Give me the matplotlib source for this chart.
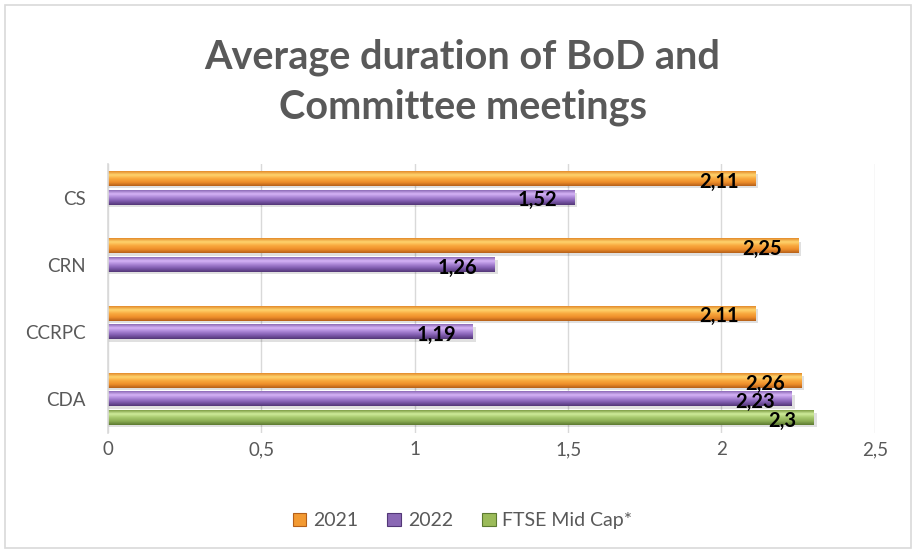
import numpy as np
import matplotlib
matplotlib.use("Agg")
import matplotlib.pyplot as plt
from matplotlib.colors import LinearSegmentedColormap
from matplotlib.patches import Rectangle

plt.rcParams['font.family'] = ['Lato', 'DejaVu Sans']

# data (top row of the chart is the last category)
categories = ["CDA", "CCRPC", "CRN", "CS"]
y2021 = [2.26, 2.11, 2.25, 2.11]
y2022 = [2.23, 1.19, 1.26, 1.52]
ftse = [2.3, None, None, None]
series_names = ["2021", "2022", "FTSE Mid Cap*"]

# bevel-ish gradients, top -> bottom
grads = {
    "2021": ["#E38A2B", "#FFD46E", "#F9A93E", "#EE8E2A", "#B5601A"],
    "2022": ["#8C6AB6", "#D6B4F7", "#A883D4", "#7D5AAC", "#533777"],
    "FTSE Mid Cap*": ["#7E9E45", "#D0EC9B", "#A6C86C", "#8BAC53", "#5C7A31"],
}
solid = {"2021": "#F39A32", "2022": "#8A68B4", "FTSE Mid Cap*": "#9BBB59"}

fig = plt.figure(figsize=(9.16, 5.53), dpi=100)
fig.patches.append(Rectangle((0.005, 0.009), 0.99, 0.982, transform=fig.transFigure,
                             fill=False, edgecolor="#D9D9D9", lw=1.2))
ax = fig.add_axes([0.1179, 0.217, 0.8371, 0.4866])

ypos = np.arange(len(categories))
slot = 0.275
hgt = 0.21
offsets = [slot, 0.0, -slot]


def gradient_bar(ax, y, v, name):
    cmap = LinearSegmentedColormap.from_list(name, grads[name])
    g = np.linspace(0, 1, 64).reshape(-1, 1)
    # soft drop shadow
    ax.add_patch(Rectangle((0, y - hgt / 2 - 0.035), v + 0.01, hgt, color="#000000",
                           alpha=0.12, lw=0, zorder=1.5))
    ax.imshow(g, cmap=cmap, extent=(0, v, y - hgt / 2, y + hgt / 2), aspect="auto",
              interpolation="bilinear", origin="upper", zorder=2)


for name, vals, off in zip(series_names, [y2021, y2022, ftse], offsets):
    for y, v in zip(ypos, vals):
        if v is None:
            continue
        gradient_bar(ax, y + off, v, name)
        ax.annotate(f"{v:g}".replace(".", ","), xy=(v, y + off), xytext=(-12, -2),
                    textcoords="offset points", ha="right", va="center",
                    fontsize=14.5, fontweight="bold", color="black", zorder=5)

ax.set_xlim(0, 2.5)
ax.set_ylim(-0.5, 3.5)
ax.set_xticks(np.arange(0, 2.51, 0.5))
ax.set_xticklabels([f"{t:g}".replace(".", ",") for t in np.arange(0, 2.51, 0.5)])
ax.set_yticks(ypos)
ax.set_yticklabels(categories)
ax.tick_params(length=0, labelsize=13.5, colors="#595959")
ax.tick_params(axis="y", pad=16)
ax.tick_params(axis="x", pad=6)
ax.grid(axis="x", color="#D9D9D9", lw=1)
ax.set_axisbelow(True)
for s in ["top", "right", "bottom"]:
    ax.spines[s].set_visible(False)
ax.spines["left"].set_color("#D9D9D9")
ax.spines["left"].set_linewidth(1.2)

fig.text(0.505, 0.851, "Average duration of BoD and\nCommittee meetings", ha="center",
         va="center", fontsize=28.5, fontweight="bold", color="#595959", linespacing=1.4)

handles = [Rectangle((0, 0), 1, 1, facecolor=solid[n], edgecolor=grads[n][-1], lw=0.8)
           for n in series_names]
fig.legend(handles, series_names, loc="center", bbox_to_anchor=(0.505, 0.058), ncol=3,
           frameon=False, fontsize=14, handlelength=0.7, handleheight=0.7,
           handletextpad=0.35, columnspacing=1.5, labelcolor="#595959")

fig.savefig("out.png", dpi=100)
